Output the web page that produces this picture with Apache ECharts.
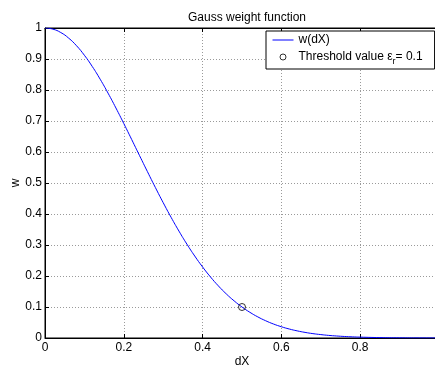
<!DOCTYPE html>
<html><head><meta charset="utf-8">
<script src="https://cdn.jsdelivr.net/npm/echarts@6/dist/echarts.min.js"></script>
<style>html,body{margin:0;padding:0;background:#fff}#c{width:435px;height:367px}</style>
</head><body><div id="c"></div>
<script>
var dX = [0,0.02,0.04,0.06,0.08,0.10,0.12,0.14,0.16,0.18,0.20,0.22,0.24,0.26,0.28,0.30,0.32,0.34,0.36,0.38,0.40,0.42,0.44,0.46,0.48,0.50,0.52,0.54,0.56,0.58,0.60,0.62,0.64,0.66,0.68,0.70,0.72,0.74,0.76,0.78,0.80,0.85,0.90,0.95,1.00];
var w = [1,0.9963,0.9854,0.9674,0.9428,0.9120,0.8758,0.8348,0.7899,0.7420,0.6918,0.6403,0.5883,0.5366,0.4858,0.4365,0.3894,0.3448,0.3031,0.2645,0.2291,0.1970,0.1681,0.1424,0.1198,0.1000,0.0829,0.0682,0.0557,0.0451,0.0363,0.0290,0.0230,0.0181,0.0141,0.0110,0.0084,0.0065,0.0049,0.0037,0.0028,0.0013,0.0006,0.0003,0.0001];
var threshold = [[0.5, 0.1]];
var xTicks = [0, 0.2, 0.4, 0.6, 0.8];
var yTicks = [0, 0.1, 0.2, 0.3, 0.4, 0.5, 0.6, 0.7, 0.8, 0.9, 1];

var font = 'Liberation Sans, Arial, Helvetica, sans-serif';
var chart = echarts.init(document.getElementById('c'), null, {renderer: 'canvas'});
var gridLine = {show: true, lineStyle: {color: '#9a9a9a', type: [1, 2], width: 1}};
var lineData = dX.map(function (x, i) { return [x, w[i]]; });
chart.setOption({
  animation: false,
  backgroundColor: '#fff',
  title: {
    text: 'Gauss weight function', left: 242, top: 7, textAlign: 'center',
    textStyle: {fontFamily: font, fontSize: 12, fontWeight: 'normal', color: '#000'}
  },
  grid: {left: 45, top: 28, width: 394, height: 310, show: true, borderColor: '#000', borderWidth: 1,
    backgroundColor: '#fff', outerBoundsMode: 'none', containLabel: false},
  legend: {
    orient: 'vertical', left: 266, top: 31,
    padding: [3, 12, 3, 6], itemGap: 5, itemWidth: 21, itemHeight: 6,
    backgroundColor: '#fff', borderColor: '#000', borderWidth: 1, borderRadius: 0,
    textStyle: {fontFamily: font, fontSize: 12, color: '#000',
      rich: {sub: {fontFamily: font, fontSize: 9, padding: [9, 0, 0, 0]}, n: {fontFamily: font, fontSize: 12}}},
    formatter: function (name) {
      if (name === 'threshold') return '{n|Threshold value ε}{sub|r}{n|= 0.1}';
      return name;
    },
    data: [{name: 'w(dX)', itemStyle: {opacity: 0}, lineStyle: {color: '#0000ff', width: 1, opacity: 1}},
           {name: 'threshold', icon: 'circle', itemStyle: {borderWidth: 1, borderColor: '#000', color: 'rgba(0,0,0,0)'}}]
  },
  xAxis: [{
    type: 'value', min: 0, max: 1, interval: 0.2, position: 'bottom',
    name: 'dX', nameLocation: 'middle', nameGap: 18, nameMoveOverlap: false,
    nameTextStyle: {fontFamily: font, fontSize: 12, color: '#000'},
    axisLine: {show: true, lineStyle: {color: '#000', width: 1}},
    axisTick: {show: true, inside: true, length: 4, lineStyle: {color: '#000'}},
    axisLabel: {fontFamily: font, fontSize: 12, color: '#000', margin: 4, hideOverlap: false,
      formatter: function (v) { var k = xTicks.indexOf(Math.round(v * 10) / 10); return k >= 0 ? String(xTicks[k]) : ''; }},
    splitLine: gridLine
  }, {
    type: 'value', min: 0, max: 1, interval: 0.2, position: 'top',
    axisLine: {show: true, lineStyle: {color: '#000'}},
    axisTick: {show: true, inside: true, length: 4, lineStyle: {color: '#000'}},
    axisLabel: {show: false}, splitLine: {show: false}
  }],
  yAxis: [{
    type: 'value', min: 0, max: 1, interval: 0.1,
    name: 'w', nameLocation: 'middle', nameGap: 23, nameMoveOverlap: false,
    nameTextStyle: {fontFamily: font, fontSize: 12, color: '#000'},
    axisLine: {show: true, lineStyle: {color: '#000', width: 1}},
    axisTick: {show: true, inside: true, length: 4, lineStyle: {color: '#000'}},
    axisLabel: {fontFamily: font, fontSize: 12, color: '#000', margin: 3,
      formatter: function (v) { var k = yTicks.indexOf(Math.round(v * 10) / 10); return k >= 0 ? String(yTicks[k]) : ''; }},
    splitLine: gridLine
  }],
  series: [{
    name: 'w(dX)', type: 'line', data: lineData, showSymbol: false, symbol: 'none', smooth: true,
    lineStyle: {color: '#0000ff', width: 1}, itemStyle: {color: '#0000ff'}, z: 3
  }, {
    name: 'threshold', type: 'scatter', data: threshold, symbol: 'circle', symbolSize: 7,
    itemStyle: {color: 'rgba(0,0,0,0)', borderColor: '#000', borderWidth: 1}, z: 4
  }]
});
</script></body></html>
